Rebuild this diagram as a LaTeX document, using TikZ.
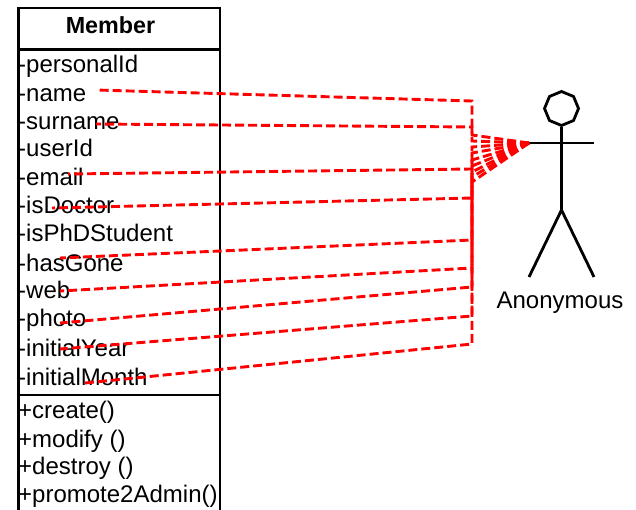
\documentclass[tikz,border=0pt]{standalone}
\usepackage{fontspec}
\setmainfont{Liberation Sans}
\usetikzlibrary{shapes.geometric}
\tikzstyle{classline} = [line width=2.8pt,black]
\tikzstyle{actorline} = [line width=2.8pt,black]
\tikzstyle{member} = [anchor=base west,inner sep=0pt,font=\fontsize{24}{26}\selectfont]
\tikzstyle{link} = [line width=2.9pt,red,dash pattern=on 9pt off 4pt]

\begin{document}
\begin{tikzpicture}[x=1pt,y=-1pt]
    \useasboundingbox (0,0) rectangle (636,510);
    % class box
    \draw [classline] (18.5,510) -- (18.5,8) -- (220,8) -- (220,510);
    \draw [classline] (18.5,49.5) -- (220,49.5);
    \draw [classline] (18.5,395) -- (220,395);
    \node [inner sep=0pt,font=\fontsize{23.3}{25}\selectfont\bfseries] (title) at (110.5,25.5) {Member};
    % attributes
    \node [member] (personalId) at (18,73) {-personalId};
    \node [member] (name) at (18,102) {-name};
    \node [member] (surname) at (18,130) {-surname};
    \node [member] (userId) at (18,157) {-userId};
    \node [member] (email) at (18,186) {-email};
    \node [member] (isDoctor) at (18,214) {-isDoctor};
    \node [member] (isPhDStudent) at (18,242) {-isPhDStudent};
    \node [member] (hasGone) at (18,271) {-hasGone};
    \node [member] (web) at (18,298) {-web};
    \node [member] (photo) at (18,326) {-photo};
    \node [member] (initialYear) at (18,356) {-initialYear};
    \node [member] (initialMonth) at (18,385) {-initialMonth};
    % operations
    \node [member] (create) at (18,418) {+create()};
    \node [member] (modify) at (18,447) {+modify ()};
    \node [member] (destroy) at (18,474) {+destroy ()};
    \node [member] (promote) at (18,502) {+promote2Admin()};
    % actor
    \node [draw,actorline,regular polygon,regular polygon sides=8,shape border rotate=22.5,
        minimum size=34pt,inner sep=0pt] (head) at (561.5,108.5) {};
    \coordinate (hand) at (529,143);
    \coordinate (otherHand) at (594,143);
    \coordinate (hip) at (561.5,210);
    \coordinate (leftFoot) at (529,277);
    \coordinate (rightFoot) at (594,277);
    \draw [actorline] (head) -- (hip);
    \draw [actorline] (hand) -- (otherHand);
    \draw [actorline] (leftFoot) -- (hip) -- (rightFoot);
    \node [inner sep=0pt,font=\fontsize{24}{26}\selectfont] (actor) at (560,302.5) {Anonymous};
    % red links
    \foreach \from/\fx/\fy/\ky/\ty in {a/96/90/101/135, b/96/124/127/141, c/68/174/169/147,
        d/52/208/198/153, e/60/258/240/160, f/60/291/268/166, g/60/323/287/172,
        h/60/349/316/177, i/85/383/344/182} {
        \coordinate (\from0) at (\fx,\fy);
        \coordinate (\from1) at (472,\ky);
        \coordinate (\from2) at (472,\ty);
        \draw [link] (hand) -- (\from2) -- (\from1) -- (\from0);
    }
\end{tikzpicture}
\end{document}
